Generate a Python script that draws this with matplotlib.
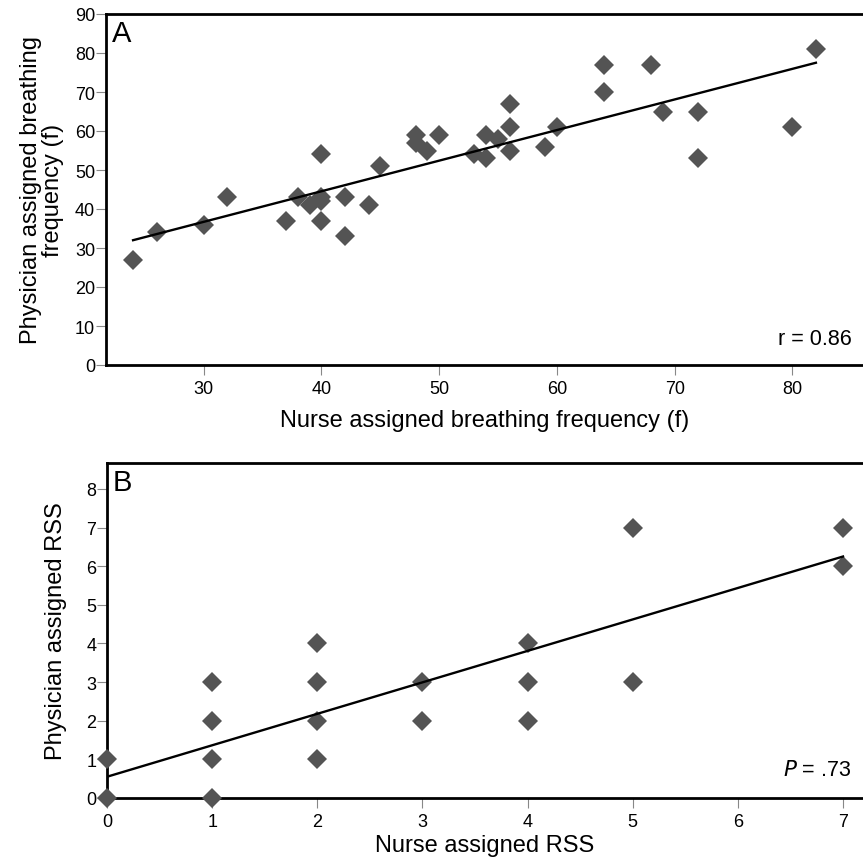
import matplotlib
matplotlib.use("Agg")
import matplotlib.pyplot as plt
import numpy as np

plt.rcParams['font.family'] = ['Liberation Sans', 'DejaVu Sans']

# Panel A: breathing frequency
nurse_f = [24, 26, 30, 32, 37, 38, 39, 40, 40, 40, 40, 42, 42, 44, 45,
           48, 48, 49, 50, 53, 54, 54, 55, 56, 56, 56, 59, 60, 64, 64,
           68, 69, 72, 72, 80, 82]
phys_f = [27, 34, 36, 43, 37, 43, 41, 54, 43, 42, 37, 43, 33, 41, 51,
          59, 57, 55, 59, 54, 59, 53, 58, 67, 61, 55, 56, 61, 77, 70,
          77, 65, 65, 53, 61, 81]
fit_a_x = [24, 82]
fit_a_y = [32, 77.5]
r_text = "r = 0.86"

# Panel B: RSS
nurse_rss = [0, 0, 1, 1, 1, 1, 2, 2, 2, 2, 3, 3, 4, 4, 4, 5, 5, 7, 7]
phys_rss = [0, 1, 0, 1, 2, 3, 1, 2, 3, 4, 2, 3, 2, 3, 4, 3, 7, 6, 7]
fit_b_x = [0, 7]
fit_b_y = [0.55, 6.25]

a_xticks = [30, 40, 50, 60, 70, 80]
a_yticks = [0, 10, 20, 30, 40, 50, 60, 70, 80, 90]
b_xticks = [0, 1, 2, 3, 4, 5, 6, 7]
b_yticks = [0, 1, 2, 3, 4, 5, 6, 7, 8]

W, H = 863, 862
fig = plt.figure(figsize=(W / 100, H / 100), dpi=100)

def px_axes(left, top, right, bottom):
    return fig.add_axes([left / W, 1 - bottom / H, (right - left) / W, (bottom - top) / H])

axA = px_axes(106, 15, 863, 366)
axB = px_axes(107, 464, 863, 799)

mcol = '#545454'

def style(ax):
    for s in ['left', 'top', 'bottom']:
        ax.spines[s].set_linewidth(2.0)
        ax.spines[s].set_color('black')
    ax.spines['right'].set_visible(False)
    ax.tick_params(direction='out', length=7, width=0.8, color='#888888',
                   labelsize=13)
    ax.tick_params(axis='x', pad=3.5)
    ax.tick_params(axis='y', pad=0.8)
    for lab in ax.get_xticklabels() + ax.get_yticklabels():
        lab.set_color('black')

# Panel A
axA.plot(nurse_f, phys_f, linestyle='none', marker='D', markersize=10.5,
         color=mcol, markeredgewidth=0, clip_on=False, zorder=3)
axA.plot(fit_a_x, fit_a_y, color='black', linewidth=1.7, zorder=4)
axA.set_xlim(21.7, 86.0)
axA.set_ylim(0, 90)
axA.set_xticks(a_xticks)
axA.set_yticks(a_yticks)
style(axA)
axA.set_xlabel("Nurse assigned breathing frequency (f)", fontsize=17, labelpad=9)
axA.set_ylabel("Physician assigned breathing\nfrequency (f)", fontsize=17, labelpad=8,
               linespacing=1.0)
axA.text(0.008, 0.985, "A", transform=axA.transAxes, fontsize=21, va='top', ha='left')
axA.text(0.985, 0.075, r_text, transform=axA.transAxes, fontsize=15.5, va='center', ha='right')

# Panel B
axB.plot(nurse_rss, phys_rss, linestyle='none', marker='D', markersize=10.5,
         color=mcol, markeredgewidth=0, clip_on=False, zorder=3)
axB.plot(fit_b_x, fit_b_y, color='black', linewidth=1.7, zorder=4)
axB.set_xlim(0, 7.19)
axB.set_ylim(0, 8.67)
axB.set_xticks(b_xticks)
axB.set_yticks(b_yticks)
style(axB)
axB.set_xlabel("Nurse assigned RSS", fontsize=17, labelpad=3)
axB.set_ylabel("Physician assigned RSS", fontsize=17, labelpad=14)
axB.text(0.008, 0.985, "B", transform=axB.transAxes, fontsize=21, va='top', ha='left')
axB.text(0.985, 0.085, r"$\it{P}$ = .73", transform=axB.transAxes, fontsize=15.5,
         va='center', ha='right')

fig.savefig("out.png", dpi=100)
